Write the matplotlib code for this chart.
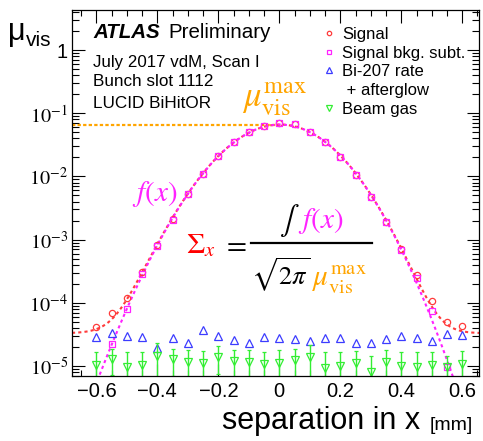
import numpy as np
import matplotlib.pyplot as plt
from matplotlib.lines import Line2D

plt.rcParams['font.family'] = ['Liberation Sans', 'DejaVu Sans']
plt.rcParams['mathtext.fontset'] = 'stix'

# beam separation [mm]
sep = [-0.6, -0.55, -0.5, -0.45, -0.4, -0.35, -0.3, -0.25, -0.2, -0.15, -0.1, -0.05, 0.0,
       0.05, 0.1, 0.15, 0.2, 0.25, 0.3, 0.35, 0.4, 0.45, 0.5, 0.55, 0.6]

signal = [4.1e-5, 6.9e-5, 1.19e-4, 3.1e-4, 8.3e-4, 2.12e-3, 5.3e-3, 1.09e-2, 2.1e-2, 3.5e-2,
          5.0e-2, 6.3e-2, 7.0e-2, 6.75e-2, 5.0e-2, 3.5e-2, 2.03e-2, 1.05e-2, 4.7e-3, 1.9e-3,
          7.1e-4, 2.75e-4, 1.07e-4, 5.0e-5, 4.3e-5]

signal_sub = [np.nan, 2.2e-5, 8.0e-5, 2.85e-4, 7.95e-4, 2.08e-3, 5.26e-3, 1.086e-2, 2.1e-2, 3.5e-2,
              5.0e-2, 6.3e-2, 7.0e-2, 6.75e-2, 5.0e-2, 3.5e-2, 2.03e-2, 1.05e-2, 4.67e-3, 1.87e-3,
              6.75e-4, 2.47e-4, 7.4e-5, 9.6e-6, np.nan]

bi207 = [2.88e-5, 3.33e-5, 2.98e-5, 2.88e-5, 1.93e-5, 2.77e-5, 2.31e-5, 3.71e-5, 2.98e-5, 2.58e-5,
         2.31e-5, 2.88e-5, 2.77e-5, 2.67e-5, 2.49e-5, 2.77e-5, 2.77e-5, 2.31e-5, 2.31e-5, 2.67e-5,
         2.98e-5, 2.77e-5, 2.49e-5, 3.21e-5, 3.10e-5]

beam_gas = [1.04e-5, 1.29e-5, 9.6e-6, 1.04e-5, 1.44e-5, 1.29e-5, 1.16e-5, 1.11e-5, 1.39e-5, 1.20e-5,
            1.16e-5, 1.08e-5, 1.11e-5, 1.24e-5, 1.39e-5, 9.3e-6, 1.0e-5, 1.11e-5, 8.0e-6, 1.16e-5,
            1.0e-5, 9.6e-6, 1.04e-5, 9.6e-6, 1.08e-5]
beam_gas_err = [6.3e-6, 5.7e-6, 7.0e-6, 6.3e-6, 8.7e-6, 6.0e-6, 6.5e-6, 6.3e-6, 6.5e-6, 6.2e-6,
                6.5e-6, 6.0e-6, 6.5e-6, 6.2e-6, 7.5e-6, 7.4e-6, 6.7e-6, 6.3e-6, 6.4e-6, 6.5e-6,
                6.7e-6, 7.0e-6, 6.3e-6, 5.0e-6, 6.5e-6]

# constant background level of the signal fit
bkg_level = 3.3e-5

x_ticks = [-0.6, -0.4, -0.2, 0.0, 0.2, 0.4, 0.6]
x_tick_labels = ['\u22120.6', '\u22120.4', '\u22120.2', '0', '0.2', '0.4', '0.6']
y_ticks = [1e-5, 1e-4, 1e-3, 1e-2, 1e-1, 1]
y_tick_labels = [r'$10^{-5}$', r'$10^{-4}$', r'$10^{-3}$', r'$10^{-2}$', r'$10^{-1}$', '1']

x_lo, x_hi = -0.68, 0.655
y_lo, y_hi = 6.95e-6, 4.3

W, H = 483, 441
RED = '#ff3b3b'
PINK = '#ff22ff'
BLUE = '#3c3cff'
GREEN = '#33ee33'
ORANGE = '#ffa500'


def fx(px):
    return px / W


def fy(py):
    return 1 - py / H


# fit of the background-subtracted points (gaussian-like, log polynomial)
sep_a = np.array(sep)
sub_a = np.array(signal_sub)
ok = np.isfinite(sub_a)
coef = np.polyfit(sep_a[ok], np.log(sub_a[ok]), 4)
xf = np.linspace(x_lo, x_hi, 600)
fit_sub = np.exp(np.polyval(coef, xf))
fit_sig = fit_sub + bkg_level
mu_max = fit_sub.max()
x_peak = xf[np.argmax(fit_sub)]

fig = plt.figure(figsize=(W / 100, H / 100), dpi=100)
ax = fig.add_axes([fx(72), fy(376), fx(479) - fx(72), fy(10) - fy(376)])

ax.hlines(mu_max, x_lo, x_peak, color=ORANGE, lw=1.6, linestyles=(0, (1.5, 1)))
ax.plot(xf, fit_sig, color=RED, lw=1.5, ls=(0, (1.5, 1.5)))
ax.plot(xf, fit_sub, color=PINK, lw=1.5, ls=(1.5, (1.5, 1.5)))

h_sig, = ax.plot(sep, signal, 'o', mfc='none', mec=RED, ms=4.5, mew=0.9)
h_sub, = ax.plot(sep, signal_sub, 's', mfc='none', mec=PINK, ms=4.5, mew=0.9)
h_bi, = ax.plot(sep, bi207, '^', mfc='none', mec=BLUE, ms=6, mew=0.9)
ax.errorbar(sep, beam_gas, yerr=beam_gas_err, fmt='v', mfc='none', mec=GREEN,
            ecolor=GREEN, ms=6, mew=0.9, elinewidth=1.0, capsize=1.5)
h_gas = Line2D([], [], marker='v', ls='none', mfc='none', mec=GREEN, ms=6, mew=0.9)
h_blank = Line2D([], [], ls='none', marker='none')

ax.set_yscale('log')
ax.set_xlim(x_lo, x_hi)
ax.set_ylim(y_lo, y_hi)
ax.set_xticks(x_ticks)
ax.set_xticklabels(x_tick_labels)
ax.set_xticks(np.round(np.arange(-0.65, 0.66, 0.05), 2), minor=True)
ax.set_yticks(y_ticks)
ax.set_yticklabels(y_tick_labels)
ax.tick_params(which='both', direction='in', top=True, right=True, labelsize=14.5, width=0.8)
ax.tick_params(axis='x', which='major', length=9, pad=4)
ax.tick_params(axis='x', which='minor', length=4.5)
ax.tick_params(axis='y', which='major', length=9, pad=3)
ax.tick_params(axis='y', which='minor', length=5)
for s in ax.spines.values():
    s.set_linewidth(0.9)

ax.legend([h_sig, h_sub, h_bi, h_blank, h_gas],
          ['Signal', 'Signal bkg. subt.', 'Bi-207 rate', ' + afterglow', 'Beam gas'],
          loc='upper left', bbox_to_anchor=(fx(324), fy(27)),
          bbox_transform=fig.transFigure, frameon=False, fontsize=12,
          handlelength=0.6, handletextpad=0.5, labelspacing=0.22, markerscale=0.7,
          borderaxespad=0, borderpad=0)

# header text
fig.text(fx(93), fy(33), 'ATLAS', fontsize=14.8, fontweight='bold', fontstyle='italic',
         va='center', ha='left')
fig.text(fx(168), fy(33), 'Preliminary', fontsize=14.8, va='center', ha='left')
fig.text(fx(93), fy(62), 'July 2017 vdM, Scan I', fontsize=12.2, va='center', ha='left')
fig.text(fx(93), fy(82), 'Bunch slot 1112', fontsize=12.3, va='center', ha='left')
fig.text(fx(93), fy(103), 'LUCID BiHitOR', fontsize=12.3, va='center', ha='left')

# formula annotations
fig.text(fx(242), fy(99), r'$\mu_{\rm vis}^{\rm max}$', color=ORANGE, fontsize=25,
         va='center', ha='left')
fig.text(fx(155), fy(194), r'$f(x)$', color=PINK, fontsize=21, va='center', ha='center')
fig.text(fx(186), fy(245), r'$\Sigma_x$', color='red', fontsize=21, va='center', ha='left')
fig.text(fx(234), fy(244), r'$=$', color='black', fontsize=21, va='center', ha='center')
fig.add_artist(Line2D([fx(251), fx(372)], [fy(243), fy(243)], color='black', lw=1.6))
fig.text(fx(279), fy(221), r'$\int$', color='black', fontsize=21, va='center', ha='left')
fig.text(fx(298), fy(221), r'$f(x)$', color=PINK, fontsize=21, va='center', ha='left')
fig.text(fx(251), fy(275), r'$\sqrt{2\pi}$', color='black', fontsize=19, va='center', ha='left')
fig.text(fx(312), fy(279), r'$\mu_{\rm vis}^{\rm max}$', color=ORANGE, fontsize=21,
         va='center', ha='left')

# axis titles
fig.text(fx(8), fy(32), '\u03bc', fontsize=22, va='center', ha='left')
fig.text(fx(26), fy(41), 'vis', fontsize=15, va='center', ha='left')
fig.text(fx(222), fy(421), 'separation in x', fontsize=22, va='center', ha='left')
fig.text(fx(430), fy(425), '[mm]', fontsize=14, va='center', ha='left')

fig.savefig('out.png', dpi=100)
